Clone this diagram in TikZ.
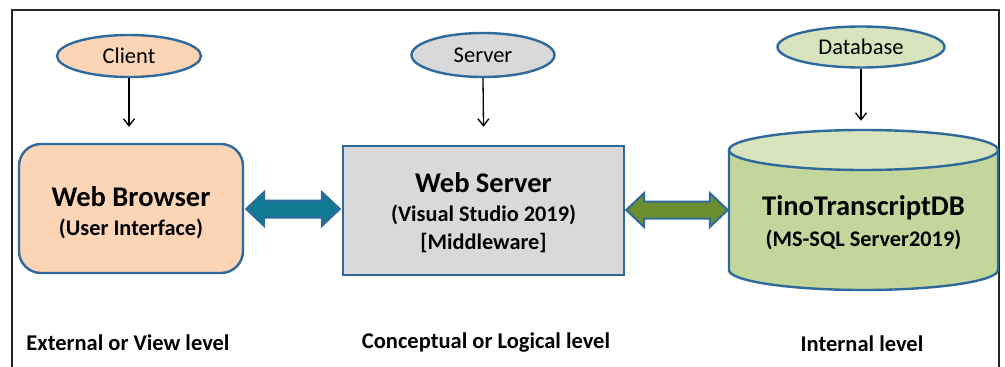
\documentclass[tikz,border=0pt]{standalone}
\usepackage{fontspec}
\setmainfont{Carlito}
\usetikzlibrary{arrows.meta,calc,shapes.geometric}
\definecolor{edgeblue}{HTML}{2E6A9E}
\definecolor{peach}{HTML}{FBD5B5}
\definecolor{lgray}{HTML}{D9D9D9}
\definecolor{dbtop}{HTML}{D7E4BD}
\definecolor{dbbody}{HTML}{C3D69B}
\definecolor{teal}{HTML}{0F7A92}
\definecolor{olive}{HTML}{6A8E30}
\newcommand{\fatdoublearrow}[3]{% #1 left point, #2 right point, #3 fill
  \path[draw=edgeblue,line width=2pt,line join=miter,fill=#3]
    let \p1=(#1), \p2=(#2) in
    (\x1,\y1) -- (\x1+18pt,\y1-17pt) -- (\x1+18pt,\y1-8.5pt) -- (\x2-18pt,\y2-8.5pt)
    -- (\x2-18pt,\y2-17pt) -- (\x2,\y2) -- (\x2-18pt,\y2+17pt) -- (\x2-18pt,\y2+8.5pt)
    -- (\x1+18pt,\y1+8.5pt) -- (\x1+18pt,\y1+17pt) -- cycle;}
\begin{document}
\begin{tikzpicture}[x=1pt,y=-1pt,
  oval/.style={ellipse,draw=edgeblue,line width=2.4pt,inner sep=0pt,font=\fontsize{22.5}{26}\selectfont},
  feed/.style={-{Straight Barb[length=7pt,width=11pt]},line width=1.3pt,black},
  title/.style={font=\bfseries\fontsize{28.5}{32}\selectfont},
  sub/.style={font=\bfseries\fontsize{22.3}{26}\selectfont},
  level/.style={font=\bfseries\fontsize{22.5}{26}\selectfont}]
\useasboundingbox (0,0) rectangle (1005,367);
% frame
\draw[line width=1.5pt,black!85] (12,367) -- (12,10) -- (999,10) -- (999,367);
% top ovals
\node[oval,fill=peach,minimum width=144pt,minimum height=42pt] (client) at (129,56) {Client};
\node[oval,fill=lgray,minimum width=143pt,minimum height=44pt] (server) at (483,55) {Server};
\node[oval,fill=dbtop,minimum width=167pt,minimum height=41pt] (dbo) at (861,47) {Database};
% web browser
\node[draw=edgeblue,line width=2.4pt,fill=peach,rounded corners=22pt,minimum width=224pt,minimum height=129pt] (wb) at (131,208.5) {};
\node[title] (wbt) at (131,197) {Web Browser};
\node[sub] (wbs) at (131,229) {(User Interface)};
% web server
\node[draw=edgeblue,line width=2.4pt,fill=lgray,minimum width=281pt,minimum height=129pt] (ws) at (483.5,210.5) {};
\node[title] (wst) at (483.5,183) {Web Server};
\node[sub] (wss) at (483.5,215) {(Visual Studio 2019)};
\node[sub] (wsm) at (483.5,243) {[Middleware]};
% database cylinder
\fill[dbbody] (729,150) -- (729,270) arc[start angle=180,end angle=0,x radius=134.5,y radius=20] -- (998,150) -- cycle;
\draw[edgeblue,line width=2.4pt] (729,150) -- (729,270) arc[start angle=180,end angle=0,x radius=134.5,y radius=20] -- (998,150);
\draw[edgeblue,line width=2.4pt,fill=dbtop] (863.5,150) ellipse[x radius=134.5,y radius=20];
\node[minimum width=269pt,minimum height=160pt,inner sep=0pt] (db) at (863.5,210) {};
\node[title] (dbt) at (863.5,208) {TinoTranscriptDB};
\node[sub] (dbs) at (863.5,240) {(MS-SQL Server2019)};
% feeds
\draw[feed] (client.south) -- ($(wb.north)+(-2,-16)$);
\draw[feed] (server.south) -- ($(ws.north)+(0,-18)$);
\draw[feed] (dbo.south) -- ($(db.north)+(-2.5,-9)$);
% double arrows
\fatdoublearrow{$(wb.east)+(2,0.5)$}{$(ws.west)+(-2,-1.5)$}{teal}
\fatdoublearrow{$(ws.east)+(1,-0.5)$}{$(db.west)+(-1,0)$}{olive}
% level labels
\node[level] (l1) at (128,343) {External or View level};
\node[level] (l2) at (486,343) {Conceptual or Logical level};
\node[level] (l3) at (862,344) {Internal level};
\end{tikzpicture}
\end{document}
